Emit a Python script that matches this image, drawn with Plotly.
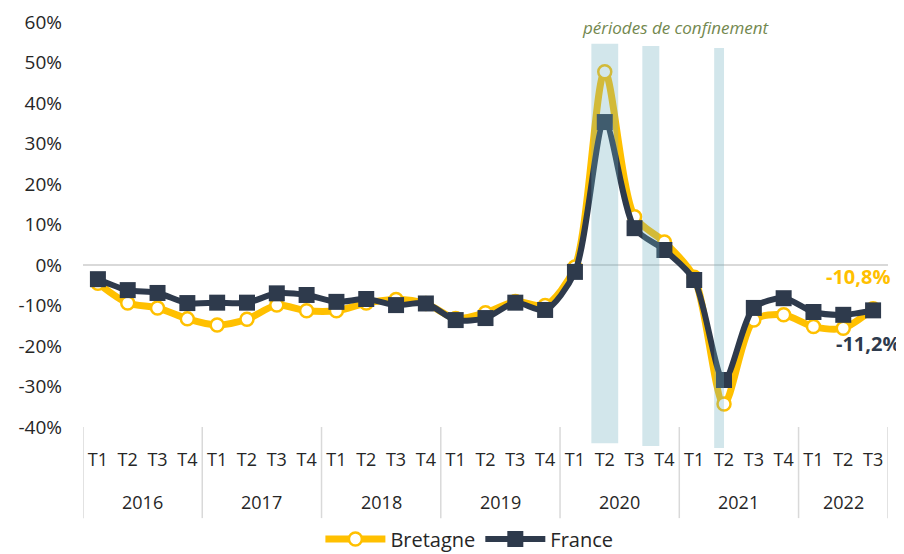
import plotly.graph_objects as go

years = ["2016"] * 4 + ["2017"] * 4 + ["2018"] * 4 + ["2019"] * 4 + ["2020"] * 4 + ["2021"] * 4 + ["2022"] * 3
quarters = ["T1", "T2", "T3", "T4"] * 6 + ["T1", "T2", "T3"]

bretagne = [-4.5, -9.4, -10.6, -13.3, -14.8, -13.4, -9.9, -11.3,
            -11.3, -9.4, -8.5, -9.5, -13.2, -11.8, -9.0, -10.0,
            -0.5, 47.7, 11.9, 5.7, -3.0, -34.3, -13.6, -12.3,
            -15.2, -15.6, -10.8]
france = [-3.5, -6.2, -6.9, -9.4, -9.3, -9.3, -7.0, -7.4,
          -9.1, -8.4, -9.9, -9.5, -13.6, -13.1, -9.3, -11.1,
          -1.7, 35.3, 9.1, 3.7, -3.7, -28.4, -10.6, -8.2,
          -11.6, -12.3, -11.2]

y_ticks = list(range(-40, 61, 10))
y_ticktext = [f"{v}%" for v in y_ticks]

# confinement periods, in category index units (start, end)
confinements = [(16.55, 17.45), (18.26, 18.83), (20.67, 21.0)]

ORANGE = "#FFC000"
NAVY = "#2E3A4C"
FONT = "Open Sans"
TXT = "#262626"
DIV = "#D9D9D9"

n = len(quarters)
cats = [f"{y} {q}" for y, q in zip(years, quarters)]

fig = go.Figure()
fig.add_trace(go.Scatter(
    x=cats, y=bretagne, name="Bretagne", mode="lines+markers",
    line=dict(color=ORANGE, width=7, shape="spline", smoothing=0.8),
    marker=dict(symbol="circle", size=13, color="white", line=dict(color=ORANGE, width=2.5)),
))
fig.add_trace(go.Scatter(
    x=cats, y=france, name="France", mode="lines+markers",
    line=dict(color=NAVY, width=6, shape="spline", smoothing=0.8),
    marker=dict(symbol="square", size=16, color=NAVY),
))

# confinement shading
tops = [0.946, 0.941, 0.936]
bots = [-0.04, -0.047, -0.052]
for (x0, x1), t, b in zip(confinements, tops, bots):
    fig.add_shape(type="rect", xref="x", yref="paper", x0=x0, x1=x1, y0=b, y1=t,
                  fillcolor="#69ACBC", opacity=0.3, line=dict(width=0), layer="above")

# year group labels and dividers
groups = []
for i, y in enumerate(years):
    if not groups or groups[-1][0] != y:
        groups.append([y, i, i])
    else:
        groups[-1][2] = i
bounds = [-0.5] + [g[2] + 0.5 for g in groups]
for bx in bounds:
    fig.add_shape(type="line", xref="x", yref="paper", x0=bx, x1=bx, y0=0, y1=-0.225,
                  line=dict(color=DIV, width=1.5), layer="below")
for y, i0, i1 in groups:
    fig.add_annotation(text=y, xref="x", yref="paper", x=(i0 + i1) / 2, y=-0.185,
                       xanchor="center", yanchor="middle", showarrow=False,
                       font=dict(family=FONT, size=18, color=TXT))

fig.add_annotation(text="<i>périodes de confinement</i>", xref="paper", yref="paper",
                   x=(676 - 83) / 805, y=(427 - 27) / 405, xanchor="center", yanchor="middle",
                   showarrow=False, font=dict(family=FONT, size=17, color="#73884F"))

fig.add_annotation(text="<b>-10,8%</b>", x=n - 1, y=bretagne[-1], xref="x", yref="y",
                   xshift=-15, yshift=32, showarrow=False,
                   font=dict(family=FONT, size=20, color=ORANGE))
fig.add_annotation(text="<b>-11,2%</b>", x=n - 1, y=france[-1], xref="x", yref="y",
                   xshift=-5, yshift=-33, showarrow=False,
                   font=dict(family=FONT, size=20, color=NAVY))

# page body has an 8px margin: figure is 896x546 so that it fills the 904x554 window
fig.update_layout(
    width=896, height=546,
    margin=dict(l=75, r=16, t=14, b=127, autoexpand=False),
    paper_bgcolor="white", plot_bgcolor="white",
    font=dict(family=FONT, size=18, color=TXT),
    showlegend=True,
    legend=dict(orientation="h", x=0.48, xanchor="center",
                yref="container", y=(546 - 531) / 546, yanchor="middle",
                font=dict(family=FONT, size=20, color=TXT), itemwidth=60),
    xaxis=dict(type="category", range=[-0.5, n - 0.5], autorange=False,
               tickvals=cats, ticktext=quarters, tickangle=0,
               showgrid=False, showline=False, zeroline=False, automargin=False,
               ticklabelstandoff=20,
               tickfont=dict(family=FONT, size=18, color=TXT)),
    yaxis=dict(range=[-40, 60], autorange=False, tickvals=y_ticks, ticktext=y_ticktext,
               showgrid=False, zeroline=True, zerolinecolor=DIV, zerolinewidth=1.5,
               showline=False, ticklabelstandoff=20, automargin=False,
               tickfont=dict(family=FONT, size=19, color=TXT)),
)

fig.write_html("out.html")
